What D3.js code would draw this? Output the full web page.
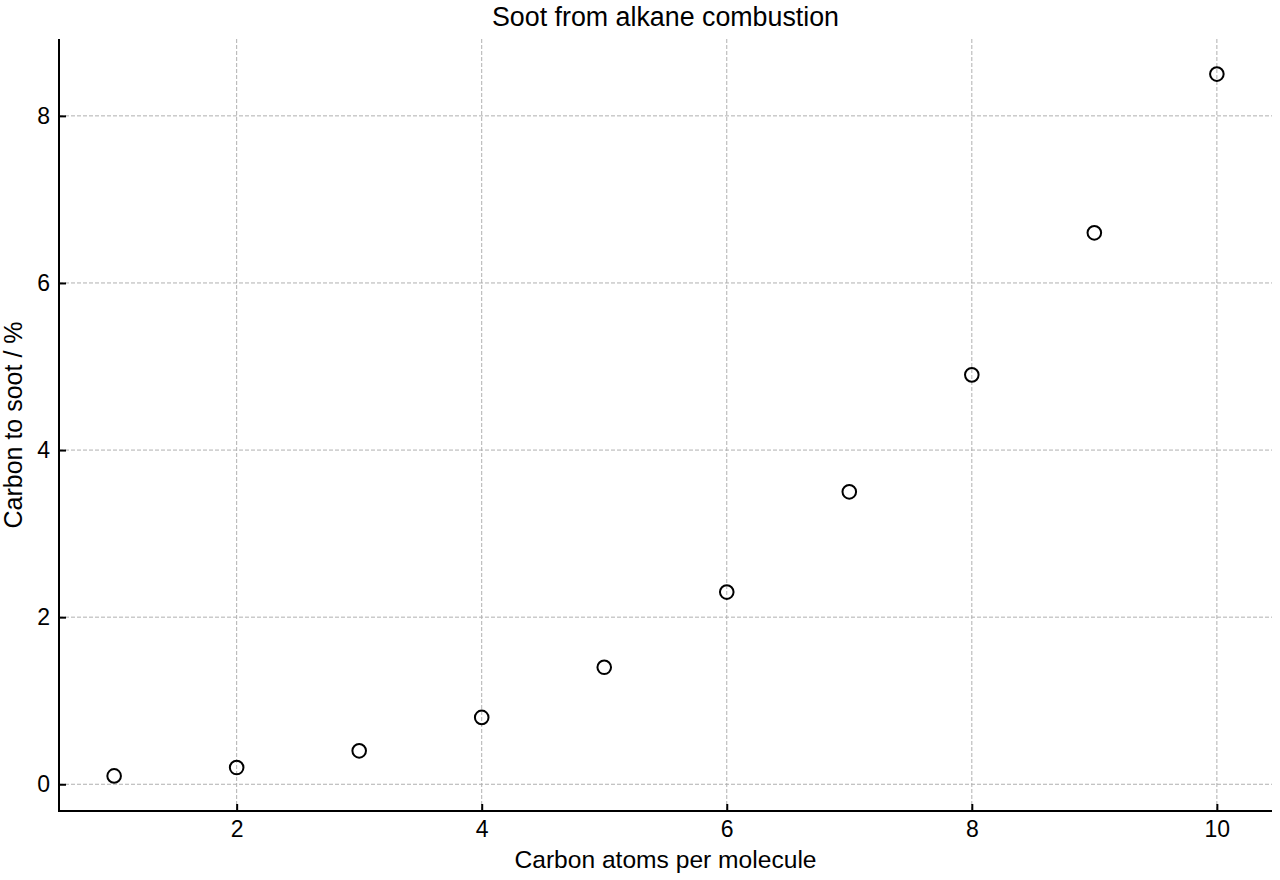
<!DOCTYPE html>
<html><head><meta charset="utf-8">
<script src="https://cdn.jsdelivr.net/npm/d3@7"></script>
<style>body{margin:0;background:#fff}svg{display:block}text{font-family:"Liberation Sans",Arial,sans-serif;fill:#000}</style>
</head><body><svg id="c" width="1280" height="880"></svg>
<script>
const carbonAtoms = [1,2,3,4,5,6,7,8,9,10];
const sootPercent = [0.1,0.2,0.4,0.8,1.4,2.3,3.5,4.9,6.6,8.5];
const xTicks = [2,4,6,8,10];
const yTicks = [0,2,4,6,8];
const title = "Soot from alkane combustion";
const xLabel = "Carbon atoms per molecule";
const yLabel = "Carbon to soot / %";

const svg = d3.select("#c");
const L=59, R=1272, T=39, B=811;
const x = d3.scaleLinear().domain([0.55,10.45]).range([L,R]);
const y = d3.scaleLinear().domain([-0.32,8.92]).range([B,T]);

const grid = svg.append("g").attr("stroke","#b0b0b0").attr("stroke-width",1).attr("stroke-dasharray","4,2");
grid.selectAll(".gx").data(xTicks).join("line").attr("x1",d=>x(d)).attr("x2",d=>x(d)).attr("y1",T).attr("y2",B);
grid.selectAll(".gy").data(yTicks).join("line").attr("y1",d=>y(d)).attr("y2",d=>y(d)).attr("x1",L).attr("x2",R);

const xa = svg.append("g").attr("transform",`translate(0,${B})`)
  .call(d3.axisBottom(x).tickValues(xTicks).tickSizeInner(-7).tickSizeOuter(0).tickPadding(10).tickFormat(d3.format("d")));
const ya = svg.append("g").attr("transform",`translate(${L},0)`)
  .call(d3.axisLeft(y).tickValues(yTicks).tickSizeInner(-7).tickSizeOuter(0).tickPadding(9).tickFormat(d3.format("d")));
[xa,ya].forEach(a=>{
  a.select(".domain").attr("stroke","#000").attr("stroke-width",2);
  a.selectAll(".tick line").attr("stroke","#000").attr("stroke-width",2);
  a.selectAll(".tick text").attr("font-size",23).attr("font-family","Liberation Sans, Arial, sans-serif").attr("fill","#000");
});
ya.select(".domain").attr("d",`M0,${B+1}V${T}`);
xa.select(".domain").attr("d",`M${L-1},0H${R}`);

svg.append("g").selectAll("circle").data(carbonAtoms).join("circle")
  .attr("cx",d=>x(d)).attr("cy",(d,i)=>y(sootPercent[i])).attr("r",6.8)
  .attr("fill","none").attr("stroke","#000").attr("stroke-width",2);

svg.append("text").attr("x",(L+R)/2).attr("y",26).attr("text-anchor","middle").attr("font-size",26.8).text(title);
svg.append("text").attr("x",(L+R)/2).attr("y",868).attr("text-anchor","middle").attr("font-size",24.6).text(xLabel);
svg.append("text").attr("transform",`translate(22,${(T+B)/2}) rotate(-90)`).attr("text-anchor","middle").attr("font-size",25).text(yLabel);
</script></body></html>
